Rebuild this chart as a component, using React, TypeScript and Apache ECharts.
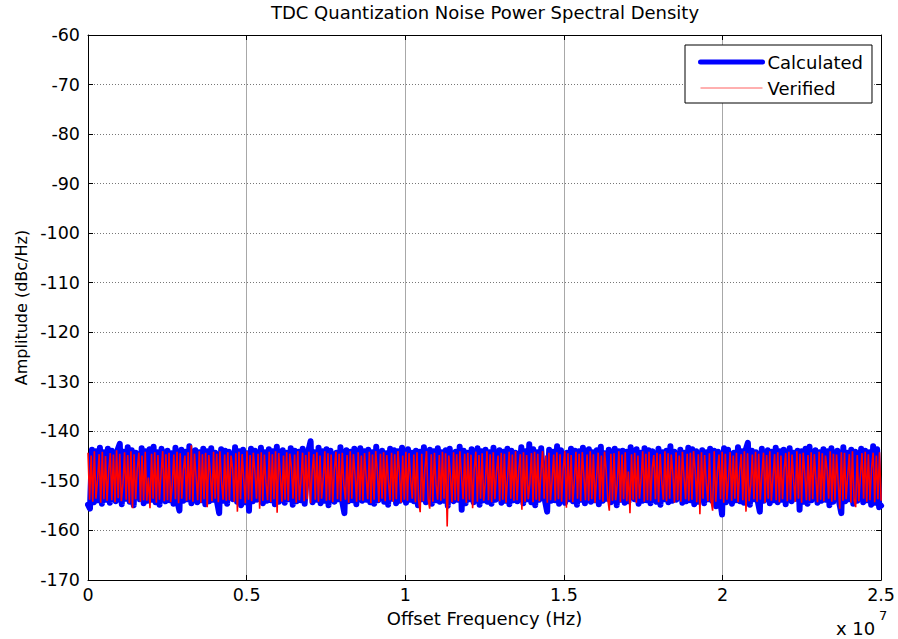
import React, { useEffect, useRef } from "react";
import * as echarts from "echarts";

const FONT = "DejaVu Sans";

const titleText = "TDC Quantization Noise Power Spectral Density";
const xAxisName = "Offset Frequency (Hz)";
const yAxisName = "Amplitude (dBc/Hz)";
const seriesNames = ["Calculated", "Verified"];

// Offset frequency span (Hz)
const freqMin = 0;
const freqMax = 2.5e7;
const freqTickStep = 0.5e7;
const freqExponent = 7;

// Amplitude axis (dBc/Hz)
const ampMin = -170;
const ampMax = -60;
const ampTickStep = 10;

// Calculated PSD (dBc/Hz), evenly spaced bins over the span
const calculated = [
  -154.8, -155.6, -143.7, -154.3, -144.0, -153.9, -143.3, -154.6, -144.2, -153.8,
  -143.5, -154.4, -143.9, -148.7, -154.1, -143.6, -142.5, -154.7, -144.1, -153.6,
  -143.2, -154.2, -143.8, -154.9, -144.3, -150.2, -153.7, -143.4, -154.5, -144.0,
  -154.0, -143.6, -153.8, -143.1, -154.3, -144.2, -154.8, -143.5, -147.9, -154.1,
  -143.9, -153.9, -144.4, -154.6, -143.3, -154.2, -156.0, -143.7, -154.0, -144.1,
  -153.7, -143.0, -154.5, -149.6, -143.8, -154.3, -144.2, -153.9, -143.5, -154.7,
  -144.0, -154.1, -143.4, -153.8, -144.3, -154.4, -156.5, -143.6, -154.0, -143.9,
  -154.6, -144.1, -148.3, -153.7, -143.2, -154.2, -144.0, -154.9, -143.7, -154.3,
  -144.4, -156.0, -143.5, -154.1, -143.9, -153.8, -150.5, -143.3, -154.5, -144.2,
  -154.0, -143.6, -153.9, -144.0, -154.7, -143.1, -154.2, -147.6, -143.8, -154.4,
  -144.3, -153.7, -143.4, -154.8, -143.9, -154.1, -144.1, -153.9, -143.5, -154.6,
  -149.1, -143.7, -142.0, -154.3, -144.2, -153.8, -143.3, -154.5, -144.0, -154.0,
  -143.6, -154.9, -143.9, -148.8, -154.2, -144.3, -153.7, -143.2, -154.4, -156.5,
  -143.8, -154.1, -144.1, -153.9, -143.5, -154.7, -150.0, -143.4, -154.0, -144.0,
  -153.8, -143.7, -154.3, -144.2, -154.6, -143.1, -153.9, -147.7, -143.9, -154.2,
  -144.4, -154.8, -143.5, -153.6, -143.8, -154.5, -144.0, -154.0, -143.3, -149.3,
  -154.4, -143.6, -153.8, -144.3, -154.1, -143.9, -154.9, -144.1, -153.7, -143.2,
  -154.3, -148.2, -143.7, -154.6, -144.0, -153.9, -143.4, -154.2, -144.2, -154.0,
  -143.8, -155.0, -143.5, -150.4, -154.1, -144.1, -153.8, -143.1, -155.8, -143.9,
  -154.5, -144.3, -153.7, -143.6, -154.3, -147.5, -143.4, -154.8, -144.0, -153.9,
  -143.7, -154.2, -144.2, -154.6, -143.3, -153.8, -149.0, -143.8, -154.4, -144.1,
  -154.0, -143.5, -154.7, -143.9, -153.9, -144.3, -154.1, -148.5, -143.2, -154.5,
  -144.0, -153.7, -142.6, -154.3, -143.6, -154.9, -144.2, -153.8, -143.4, -150.3,
  -154.2, -156.2, -143.7, -154.0, -144.1, -153.9, -143.0, -154.6, -143.8, -147.8,
  -154.4, -144.3, -153.7, -143.5, -154.1, -143.9, -154.8, -144.0, -153.8, -143.3,
  -154.5, -149.4, -143.6, -154.2, -144.2, -153.9, -143.8, -154.7, -143.1, -154.0,
  -144.4, -153.6, -143.7, -154.3, -148.1, -143.5, -154.9, -144.0, -153.8, -143.9,
  -154.4, -144.1, -154.1, -143.2, -150.6, -153.7, -143.6, -154.6, -144.3, -154.0,
  -143.4, -153.9, -143.8, -154.5, -144.0, -147.4, -154.2, -143.5, -154.8, -144.2,
  -153.7, -143.9, -154.3, -143.0, -154.0, -144.1, -153.8, -149.2, -143.7, -154.4,
  -144.3, -154.1, -143.3, -153.9, -143.6, -154.7, -144.0, -154.2, -148.6, -143.8,
  -154.5, -144.2, -153.7, -143.5, -154.0, -143.9, -155.1, -144.1, -153.8, -156.8,
  -143.4, -154.3, -143.7, -150.1, -154.6, -144.3, -153.9, -143.2, -154.1, -144.0,
  -154.4, -143.6, -142.3, -154.8, -143.9, -153.7, -144.2, -154.2, -156.2, -143.5,
  -154.0, -147.9, -143.8, -154.5, -144.1, -153.9, -143.3, -154.3, -144.0, -153.8,
  -143.7, -154.7, -149.5, -143.4, -154.1, -144.3, -153.6, -143.9, -155.8, -144.0,
  -154.2, -143.5, -154.6, -143.1, -153.9, -148.4, -143.8, -154.4, -144.2, -154.0,
  -143.6, -153.8, -144.0, -154.9, -143.4, -154.2, -150.2, -143.9, -154.5, -156.5,
  -143.2, -154.1, -144.3, -153.7, -143.7, -154.6, -144.1, -154.0, -147.7, -143.5,
  -154.3, -143.9, -153.9, -144.2, -154.8, -143.0, -154.4, -143.6, -155.3, -155.0,
];

// Verified PSD (dBc/Hz), evenly spaced bins over the span
const verified = [
  -144.3, -153.8, -144.9, -154.2, -144.0, -153.6, -149.8, -144.6, -154.4, -144.1,
  -153.7, -145.0, -154.0, -148.1, -144.4, -153.9, -144.7, -154.3, -143.8, -153.5,
  -144.5, -154.1, -150.6, -144.2, -153.8, -144.8, -154.5, -144.0, -155.5, -144.6,
  -153.7, -147.6, -144.3, -154.2, -144.9, -153.9, -144.1, -154.0, -149.3, -155.5,
  -144.5, -153.6, -144.2, -154.4, -144.8, -153.8, -148.4, -144.0, -154.1, -144.6,
  -153.9, -144.3, -154.3, -150.9, -144.7, -153.7, -144.1, -154.5, -144.4, -153.6,
  -147.8, -144.9, -154.0, -144.2, -153.8, -142.8, -154.2, -144.5, -149.1, -153.9,
  -144.0, -154.4, -144.6, -153.7, -144.3, -155.3, -144.8, -148.6, -154.1, -144.1,
  -153.6, -144.5, -154.3, -144.0, -150.2, -153.8, -144.7, -154.0, -144.2, -153.9,
  -144.9, -147.5, -154.2, -144.4, -156.2, -144.1, -153.7, -144.6, -149.7, -154.5,
  -144.0, -153.8, -144.8, -154.1, -144.3, -148.0, -153.6, -144.5, -155.6, -144.2,
  -154.0, -144.7, -150.4, -153.9, -144.1, -154.3, -144.6, -153.7, -144.0, -156.4,
  -144.4, -148.9, -154.2, -144.9, -153.8, -144.2, -154.0, -144.5, -147.3, -153.6,
  -144.7, -154.4, -144.0, -153.9, -150.0, -144.3, -154.1, -144.8, -153.7, -144.1,
  -154.5, -148.3, -144.6, -153.8, -144.2, -154.2, -144.9, -153.6, -149.5, -144.0,
  -154.0, -144.4, -153.9, -144.7, -154.3, -147.7, -144.1, -153.7, -144.5, -154.1,
  -144.3, -150.8, -153.8, -144.8, -154.4, -144.0, -153.6, -144.6, -148.7, -154.2,
  -144.2, -153.9, -144.9, -154.0, -144.4, -149.2, -153.7, -144.1, -154.5, -144.7,
  -153.8, -144.0, -147.9, -154.3, -144.5, -153.6, -144.2, -154.1, -144.8, -150.1,
  -153.9, -144.3, -154.2, -144.6, -153.7, -144.0, -148.5, -154.4, -144.9, -153.8,
  -144.1, -154.0, -144.4, -149.6, -153.6, -144.7, -154.3, -144.2, -153.9, -156.3,
  -144.5, -154.1, -147.4, -144.0, -153.7, -155.6, -144.6, -154.2, -144.3, -150.7,
  -153.8, -144.8, -154.0, -144.1, -153.6, -144.4, -159.2, -144.9, -148.8, -154.3,
  -144.2, -153.9, -144.6, -154.1, -144.0, -149.0, -153.7, -144.5, -154.4, -144.3,
  -153.8, -144.7, -155.5, -147.6, -144.1, -154.2, -144.8, -153.6, -144.4, -154.0,
  -150.3, -144.0, -153.9, -144.6, -154.3, -144.2, -153.7, -148.2, -144.9, -154.1,
  -144.3, -153.8, -144.5, -154.4, -149.4, -144.1, -153.6, -144.7, -154.0, -144.0,
  -153.9, -147.9, -144.6, -155.8, -144.2, -154.2, -144.8, -153.7, -150.5, -144.4,
  -154.3, -144.1, -153.8, -144.5, -154.1, -148.4, -144.0, -153.6, -144.9, -154.4,
  -144.3, -153.9, -149.8, -144.7, -154.0, -144.2, -153.7, -144.6, -154.2, -147.5,
  -144.0, -155.4, -144.4, -153.8, -144.8, -154.3, -150.0, -144.1, -153.6, -144.5,
  -154.1, -144.2, -148.9, -153.9, -144.7, -154.0, -144.0, -153.7, -144.6, -154.4,
  -149.3, -144.3, -153.8, -144.9, -154.2, -144.1, -147.8, -153.6, -156.0, -144.5,
  -154.0, -144.4, -153.9, -150.6, -144.0, -154.3, -144.7, -153.7, -144.2, -154.1,
  -148.1, -156.5, -144.6, -153.8, -144.3, -154.4, -144.9, -153.6, -149.7, -144.0,
  -154.2, -144.5, -153.9, -144.1, -154.0, -147.4, -144.8, -153.7, -144.3, -154.3,
  -144.6, -150.2, -153.8, -144.0, -154.1, -144.4, -153.6, -144.7, -148.6, -154.4,
  -144.2, -153.9, -144.9, -154.2, -144.1, -149.1, -153.7, -144.5, -154.0, -144.3,
  -153.8, -144.0, -147.7, -154.3, -144.6, -156.7, -144.2, -153.6, -144.8, -150.4,
  -154.1, -144.4, -153.9, -156.0, -144.0, -154.2, -148.3, -144.7, -153.7, -144.1,
  -154.4, -144.5, -153.8, -149.5, -144.2, -154.0, -144.9, -153.6, -144.3, -154.3,
  -147.9, -144.6, -153.9, -144.0, -156.2, -144.4, -154.1, -150.8, -144.7, -153.7,
  -144.1, -154.2, -144.5, -153.8, -148.7, -144.3, -154.4, -144.8, -153.6, -144.0,
  -154.0, -149.2, -144.6, -153.9, -144.2, -154.3, -144.9, -153.7, -147.6, -144.4,
  -154.1, -144.1, -153.8, -144.7, -150.1, -154.2, -144.0, -153.6, -144.5, -154.4,
  -144.3, -148.5, -153.9, -144.8, -154.0, -144.2, -153.7, -144.6, -149.6, -154.3,
  -144.1, -153.8, -144.4, -154.1, -144.9, -147.8, -153.6, -144.0, -154.2, -144.5,
  -153.9, -144.7, -150.3, -155.6, -144.2, -154.0, -144.3, -153.7, -148.9, -144.6,
  -154.4, -144.0, -153.8, -155.3, -144.8, -154.1, -149.0, -144.4, -153.6, -144.1,
  -154.2, -144.6, -153.9, -147.5, -144.3, -154.3, -144.9, -153.7, -144.2, -154.0,
];

const toPairs = (vals: number[]) => {
  const step = (freqMax - freqMin) / (vals.length - 1);
  return vals.map((v, i) => [freqMin + i * step, v]);
};

const axisCommonX = {
  type: "value" as const,
  min: freqMin,
  max: freqMax,
  interval: freqTickStep,
  axisLine: { show: true, onZero: false, lineStyle: { color: "#000", width: 1 } },
  axisTick: { show: true, inside: true, length: 5, lineStyle: { color: "#000" } },
};

const axisCommonY = {
  type: "value" as const,
  min: ampMin,
  max: ampMax,
  interval: ampTickStep,
  axisLine: { show: true, onZero: false, lineStyle: { color: "#000", width: 1 } },
  axisTick: { show: true, inside: true, length: 5, lineStyle: { color: "#000" } },
};

export default function App() {
  const ref = useRef<HTMLDivElement>(null);
  useEffect(() => {
    if (!ref.current) return;
    const chart = echarts.init(ref.current, null, { renderer: "svg" });
    const option: any = {
      animation: false,
      backgroundColor: "#fff",
      title: {
        text: titleText,
        left: 485,
        top: 3,
        textAlign: "center",
        padding: 0,
        textStyle: { fontFamily: FONT, fontSize: 18, fontWeight: "normal", color: "#000" },
      },
      grid: { left: 88, right: 16, top: 35, bottom: 59, containLabel: false },
      legend: {
        orient: "vertical",
        right: 26,
        top: 45,
        itemWidth: 62,
        itemHeight: 14,
        itemGap: 8,
        padding: [8, 9, 6, 13],
        backgroundColor: "#fff",
        borderColor: "#000",
        borderWidth: 1,
        borderRadius: 0,
        itemStyle: { opacity: 0, borderWidth: 0 },
        textStyle: { fontFamily: FONT, fontSize: 18, color: "#000" },
        data: [
          { name: seriesNames[0], lineStyle: { width: 5, color: "#0000ff", opacity: 1 } },
          { name: seriesNames[1], lineStyle: { width: 1, color: "#ff6060", opacity: 1 } },
        ],
      },
      xAxis: [
        {
          ...axisCommonX,
          position: "bottom",
          axisLabel: {
            color: "#000",
            fontFamily: FONT,
            fontSize: 17.5,
            margin: 6,
            formatter: (v: number) => String(v / Math.pow(10, freqExponent)),
          },
          splitLine: { show: true, lineStyle: { color: "#a8a8a8", type: "solid", width: 1 } },
          name: xAxisName,
          nameLocation: "middle",
          nameGap: 29,
          nameTextStyle: { fontFamily: FONT, fontSize: 18, color: "#000" },
        },
        {
          ...axisCommonX,
          position: "top",
          axisLabel: { show: false },
          splitLine: { show: false },
        },
      ],
      yAxis: [
        {
          ...axisCommonY,
          position: "left",
          axisLabel: { color: "#000", fontFamily: FONT, fontSize: 17.5, margin: 8 },
          splitLine: { show: true, lineStyle: { color: "#777", type: [1, 2], width: 1 } },
          name: yAxisName,
          nameLocation: "middle",
          nameGap: 53,
          nameTextStyle: { fontFamily: FONT, fontSize: 16, color: "#000" },
        },
        {
          ...axisCommonY,
          position: "right",
          axisLabel: { show: false },
          splitLine: { show: false },
        },
      ],
      series: [
        {
          type: "line",
          name: seriesNames[0],
          data: toPairs(calculated),
          symbol: "none",
          showSymbol: false,
          lineStyle: { color: "#0000ff", width: 6, cap: "round", join: "round" },
          itemStyle: { color: "#0000ff" },
          z: 2,
        },
        {
          type: "line",
          name: seriesNames[1],
          data: toPairs(verified),
          symbol: "none",
          showSymbol: false,
          lineStyle: { color: "#ff0000", width: 1.6 },
          itemStyle: { color: "#ff0000" },
          z: 3,
        },
      ],
      graphic: [
        {
          type: "text",
          left: 836,
          top: 619,
          style: { text: "x 10", fontFamily: FONT, fontSize: 18, fill: "#000" },
        },
        {
          type: "text",
          left: 879,
          top: 609,
          style: { text: String(freqExponent), fontFamily: FONT, fontSize: 13, fill: "#000" },
        },
      ],
    };
    chart.setOption(option);
    return () => chart.dispose();
  }, []);
  return (
    <div
      ref={ref}
      style={{ position: "fixed", left: 0, top: 0, width: 898, height: 639, background: "#fff" }}
    />
  );
}
